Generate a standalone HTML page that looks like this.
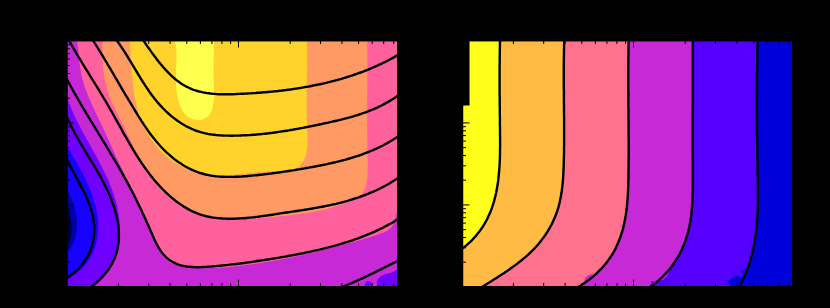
<!DOCTYPE html>
<html><head><meta charset="utf-8"><title>contours</title>
<style>html,body{margin:0;padding:0;background:#000;width:830px;height:308px;overflow:hidden;font-family:"Liberation Sans",sans-serif;}</style>
</head><body>
<svg shape-rendering="geometricPrecision" width="830" height="308" viewBox="0 0 830 308" style="position:absolute;left:0;top:0;display:block">
<defs><clipPath id="cl"><rect x="67" y="41" width="330" height="245"/></clipPath><clipPath id="cr"><rect x="463" y="41" width="329" height="245"/></clipPath></defs>
<rect x="0" y="0" width="830" height="308" fill="#000"/>
<g clip-path="url(#cl)">
<path d="M60 30H410V300H60Z" fill="#c729d6"/>
<path d="M66.0 94.0L66.1 94.2L66.7 96.1L67.3 98.0L67.9 99.9L68.6 101.7L69.3 103.6L70.1 105.4L70.8 107.3L71.6 109.1L72.4 110.9L73.2 112.8L74.0 114.6L74.9 116.4L75.8 118.2L76.6 120.0L77.5 121.8L78.4 123.6L79.4 125.4L80.3 127.2L81.2 129.0L82.2 130.8L83.2 132.6L84.1 134.4L85.1 136.2L86.1 137.9L87.1 139.7L88.1 141.5L89.1 143.3L90.1 145.1L91.0 146.9L92.0 148.6L93.0 150.4L94.0 152.2L95.0 154.0L96.0 155.8L97.0 157.6L97.9 159.4L98.9 161.2L99.9 163.0L100.8 164.8L101.7 166.6L102.6 168.4L103.6 170.3L104.4 172.1L105.3 173.9L106.2 175.8L107.0 177.6L107.9 179.5L108.7 181.3L109.5 183.2L110.2 185.1L111.0 187.0L111.7 188.9L112.4 190.8L113.1 192.7L113.7 194.6L114.4 196.5L115.0 198.5L115.5 200.4L116.1 202.4L116.6 204.3L117.1 206.3L117.5 208.3L117.9 210.3L118.3 212.3L118.6 214.3L118.9 216.3L119.2 218.3L119.4 220.3L119.6 222.4L119.8 224.4L119.9 226.4L119.9 228.4L120.0 230.4L120.0 232.4L119.9 234.4L119.8 236.4L119.6 238.4L119.4 240.3L119.2 242.3L118.9 244.3L118.6 246.2L118.2 248.1L117.7 250.0L117.2 251.9L116.7 253.8L116.1 255.7L115.4 257.6L114.7 259.4L113.9 261.2L113.1 263.0L112.2 264.8L111.3 266.5L110.3 268.2L109.2 270.0L108.1 271.6L106.9 273.3L105.7 274.9L104.3 276.5L102.9 278.1L101.5 279.6L100.0 281.1L98.4 282.6L96.7 284.0L95.0 285.4L93.2 286.8L91.4 288.1L60.0 290.0L60.0 93.0Z" fill="#6f00ff"/>
<path d="M66.0 145.5L66.4 145.5L67.4 147.1L68.4 148.8L69.5 150.4L70.5 152.1L71.5 153.8L72.5 155.5L73.6 157.2L74.6 159.0L75.6 160.7L76.6 162.5L77.6 164.2L78.7 166.0L79.6 167.8L80.6 169.6L81.6 171.4L82.6 173.2L83.5 175.1L84.4 176.9L85.3 178.8L86.2 180.6L87.1 182.5L87.9 184.4L88.8 186.3L89.6 188.2L90.3 190.1L91.1 192.0L91.8 193.9L92.5 195.9L93.1 197.8L93.7 199.7L94.3 201.7L94.9 203.7L95.4 205.6L95.9 207.6L96.3 209.6L96.7 211.6L97.0 213.6L97.3 215.6L97.6 217.6L97.8 219.6L98.0 221.6L98.1 223.6L98.1 225.6L98.1 227.6L98.1 229.6L98.0 231.6L97.8 233.6L97.6 235.6L97.3 237.6L97.0 239.6L96.6 241.5L96.1 243.5L95.6 245.4L95.0 247.3L94.4 249.1L93.6 251.0L92.8 252.8L92.0 254.6L91.0 256.4L90.0 258.1L89.0 259.8L87.8 261.5L86.6 263.1L85.3 264.7L83.9 266.2L82.5 267.7L81.1 269.2L79.6 270.7L78.0 272.1L76.4 273.4L74.8 274.8L73.2 276.0L71.5 277.3L69.9 278.5L68.2 279.6L66.5 280.8L64.8 281.8L60.0 282.0L60.0 145.5Z" fill="#1600ff"/>
<path d="M66.0 187.0L66.1 187.1L67.0 188.9L68.0 190.6L68.9 192.5L69.8 194.3L70.6 196.2L71.4 198.2L72.2 200.1L72.9 202.1L73.6 204.2L74.2 206.2L74.8 208.3L75.3 210.3L75.8 212.4L76.2 214.5L76.5 216.6L76.7 218.7L76.9 220.8L77.0 222.9L77.0 225.0L77.0 227.1L76.8 229.2L76.6 231.3L76.3 233.3L75.9 235.3L75.4 237.3L74.7 239.3L74.0 241.2L73.2 243.1L72.3 245.0L71.2 246.8L70.1 248.5L68.8 250.3L67.4 252.0L65.9 253.6L60.0 253.5L60.0 187.0Z" fill="#0000aa"/>
<path d="M66.0 205.0L66.2 205.0L67.1 206.8L67.8 208.7L68.5 210.7L69.2 212.7L69.8 214.7L70.3 216.8L70.8 218.9L71.1 221.0L71.4 223.1L71.6 225.3L71.7 227.4L71.7 229.6L71.7 231.7L71.5 233.8L71.2 235.9L70.8 238.0L70.4 240.0L69.8 242.0L69.0 244.0L68.2 245.9L67.3 247.8L66.2 249.6L60.0 249.5L60.0 205.0Z" fill="#000039"/>
<path d="M76.9 39.0L76.8 39.1L77.1 41.0L77.4 42.9L77.7 44.8L78.0 46.8L78.2 48.8L78.4 50.8L78.6 52.8L78.7 54.8L78.9 56.9L79.1 58.9L79.3 61.0L79.5 63.0L79.8 65.1L80.0 67.1L80.3 69.1L80.7 71.1L81.1 73.1L81.5 75.1L81.9 77.1L82.4 79.0L83.0 80.9L83.5 82.8L84.1 84.7L84.7 86.6L85.4 88.5L86.1 90.4L86.8 92.2L87.5 94.1L88.2 95.9L89.0 97.8L89.8 99.6L90.6 101.4L91.4 103.2L92.2 105.1L93.1 106.9L93.9 108.7L94.8 110.5L95.6 112.3L96.5 114.1L97.3 115.9L98.2 117.7L99.1 119.5L99.9 121.3L100.8 123.2L101.6 125.0L102.5 126.8L103.3 128.6L104.2 130.5L105.0 132.3L105.9 134.1L106.7 135.9L107.6 137.8L108.4 139.6L109.3 141.4L110.1 143.3L110.9 145.1L111.8 146.9L112.6 148.8L113.5 150.6L114.3 152.4L115.1 154.3L116.0 156.1L116.8 157.9L117.6 159.8L118.5 161.6L119.3 163.4L120.2 165.3L121.0 167.1L121.9 168.9L122.7 170.7L123.5 172.6L124.4 174.4L125.2 176.2L126.1 178.0L126.9 179.8L127.8 181.6L128.7 183.4L129.5 185.2L130.4 187.0L131.2 188.8L132.1 190.6L133.0 192.4L133.8 194.2L134.7 196.0L135.6 197.7L136.5 199.5L137.3 201.3L138.2 203.1L139.1 204.9L140.0 206.7L140.8 208.4L141.7 210.2L142.6 212.0L143.4 213.8L144.3 215.6L145.1 217.4L146.0 219.3L146.8 221.1L147.7 222.9L148.5 224.8L149.3 226.6L150.2 228.5L151.0 230.4L151.8 232.2L152.6 234.1L153.4 236.0L154.2 238.0L155.0 239.9L155.8 241.8L156.5 243.8L157.4 245.7L158.2 247.6L159.1 249.4L160.0 251.2L161.0 252.9L162.0 254.5L163.2 256.1L164.4 257.6L165.7 258.9L167.1 260.1L168.6 261.3L170.3 262.2L172.0 263.1L173.9 263.8L175.8 264.4L177.8 264.9L179.8 265.4L181.8 265.8L183.8 266.2L185.9 266.5L187.9 266.8L189.9 267.1L191.9 267.3L193.9 267.5L196.0 267.7L198.0 267.8L200.0 267.9L202.0 268.0L204.0 268.1L206.0 268.1L208.0 268.1L210.1 268.1L212.1 268.0L214.1 268.0L216.1 267.9L218.1 267.8L220.1 267.7L222.1 267.5L224.1 267.4L226.1 267.2L228.1 267.0L230.1 266.9L232.1 266.7L234.1 266.4L236.0 266.2L238.0 266.0L240.0 265.8L242.0 265.5L244.0 265.3L246.0 265.0L248.0 264.8L250.0 264.5L252.0 264.2L253.9 264.0L255.9 263.7L257.9 263.4L259.9 263.1L261.9 262.8L263.9 262.5L265.8 262.1L267.8 261.8L269.8 261.5L271.8 261.1L273.7 260.8L275.7 260.4L277.7 260.1L279.7 259.7L281.6 259.3L283.6 259.0L285.6 258.6L287.5 258.2L289.5 257.8L291.5 257.4L293.4 257.0L295.4 256.6L297.4 256.2L299.3 255.8L301.3 255.3L303.2 254.9L305.2 254.5L307.2 254.0L309.1 253.6L311.1 253.1L313.0 252.7L315.0 252.2L316.9 251.7L318.9 251.3L320.8 250.8L322.8 250.3L324.7 249.8L326.7 249.3L328.6 248.8L330.6 248.3L332.5 247.8L334.5 247.3L336.4 246.8L338.4 246.3L340.3 245.8L342.2 245.2L344.2 244.7L346.1 244.2L348.0 243.6L350.0 243.1L351.9 242.5L353.8 241.9L355.8 241.4L357.7 240.8L359.6 240.2L361.6 239.7L363.5 239.1L365.4 238.5L367.3 237.9L369.2 237.3L371.2 236.7L373.1 236.1L375.0 235.4L376.9 234.8L378.8 234.2L380.7 233.6L382.6 232.9L384.4 232.2L386.2 231.3L387.8 230.4L389.4 229.3L390.7 228.0L391.9 226.4L392.9 224.7L393.8 222.9L394.6 220.9L395.2 218.8L395.8 216.7L396.3 214.6L396.8 212.6L397.3 210.7L397.9 209.0L405.0 209.0L405.0 30.0L76.9 30.0Z" fill="#ff619e"/>
<path d="M101.7 39.0L101.7 39.0L101.9 41.0L102.0 43.0L102.1 45.0L102.1 47.0L102.2 49.0L102.2 51.1L102.2 53.1L102.3 55.1L102.3 57.2L102.4 59.2L102.5 61.2L102.6 63.2L102.8 65.2L102.9 67.2L103.1 69.2L103.4 71.2L103.7 73.2L104.0 75.1L104.3 77.1L104.6 79.0L105.0 81.0L105.5 82.9L105.9 84.8L106.4 86.8L107.0 88.7L107.6 90.6L108.2 92.5L108.8 94.3L109.5 96.2L110.3 98.1L111.0 100.0L111.8 101.8L112.6 103.7L113.4 105.5L114.3 107.3L115.2 109.2L116.0 111.0L116.9 112.8L117.8 114.6L118.8 116.4L119.7 118.3L120.6 120.1L121.5 121.9L122.4 123.7L123.3 125.5L124.2 127.3L125.1 129.1L126.0 130.9L126.9 132.7L127.7 134.5L128.6 136.3L129.4 138.1L130.2 139.9L131.0 141.8L131.9 143.6L132.7 145.4L133.5 147.2L134.3 148.9L135.2 150.7L136.0 152.5L136.9 154.3L137.8 156.1L138.6 157.8L139.6 159.6L140.5 161.4L141.4 163.1L142.4 164.9L143.4 166.6L144.4 168.3L145.5 170.0L146.6 171.7L147.7 173.4L148.9 175.1L150.1 176.8L151.3 178.4L152.6 180.1L153.8 181.7L155.1 183.3L156.5 184.8L157.8 186.4L159.2 187.9L160.6 189.4L162.1 190.9L163.5 192.3L165.0 193.7L166.6 195.1L168.1 196.4L169.7 197.7L171.2 199.0L172.9 200.2L174.5 201.4L176.1 202.5L177.8 203.6L179.5 204.6L181.2 205.6L183.0 206.6L184.7 207.5L186.5 208.4L188.3 209.2L190.1 210.0L191.9 210.7L193.8 211.4L195.7 212.1L197.5 212.7L199.4 213.3L201.3 213.8L203.2 214.3L205.1 214.8L207.1 215.3L209.0 215.7L211.0 216.1L212.9 216.4L214.9 216.7L216.9 217.0L218.9 217.3L220.9 217.5L222.9 217.7L224.9 217.9L226.9 218.1L228.9 218.2L230.9 218.3L232.9 218.4L235.0 218.5L237.0 218.6L239.0 218.6L241.0 218.6L243.1 218.6L245.1 218.6L247.1 218.6L249.1 218.5L251.2 218.5L253.2 218.4L255.2 218.3L257.2 218.2L259.3 218.1L261.3 217.9L263.3 217.8L265.3 217.6L267.3 217.5L269.3 217.3L271.4 217.1L273.4 216.9L275.4 216.8L277.4 216.6L279.4 216.3L281.3 216.1L283.3 215.9L285.3 215.7L287.3 215.5L289.3 215.2L291.2 215.0L293.2 214.8L295.1 214.5L297.1 214.3L299.1 214.0L301.0 213.7L303.0 213.5L304.9 213.2L306.9 212.9L308.8 212.5L310.8 212.2L312.7 211.8L314.7 211.5L316.7 211.1L318.6 210.7L320.6 210.3L322.6 209.8L324.6 209.4L326.6 208.9L328.6 208.4L330.5 207.9L332.5 207.3L334.5 206.7L336.5 206.1L338.5 205.5L340.5 204.8L342.4 204.2L344.4 203.4L346.3 202.7L348.2 201.9L350.1 201.1L352.0 200.3L353.8 199.4L355.6 198.5L357.3 197.5L359.0 196.4L360.4 195.2L361.7 193.9L362.9 192.5L363.8 190.9L364.7 189.3L365.4 187.6L365.9 185.8L366.4 184.0L366.8 182.0L367.1 180.1L367.3 178.1L367.4 176.0L367.5 174.0L367.6 171.9L367.6 169.8L367.7 167.8L367.7 165.7L367.7 163.7L367.7 161.7L367.7 159.6L367.6 157.6L367.6 155.6L367.6 153.6L367.5 151.5L367.5 149.5L367.5 147.5L367.4 145.5L367.4 143.5L367.3 141.5L367.3 139.5L367.3 137.5L367.3 135.5L367.2 133.5L367.2 131.5L367.2 129.4L367.2 127.4L367.2 125.4L367.2 123.4L367.2 121.4L367.2 119.4L367.2 117.4L367.2 115.4L367.2 113.4L367.2 111.4L367.2 109.4L367.2 107.3L367.2 105.3L367.2 103.3L367.2 101.3L367.2 99.3L367.2 97.3L367.2 95.3L367.3 93.3L367.3 91.3L367.3 89.3L367.3 87.2L367.3 85.2L367.3 83.2L367.3 81.2L367.4 79.2L367.4 77.2L367.4 75.2L367.4 73.2L367.4 71.2L367.4 69.2L367.4 67.1L367.4 65.1L367.4 63.1L367.4 61.1L367.4 59.1L367.4 57.1L367.4 55.1L367.4 53.1L367.3 51.1L367.3 49.1L367.3 47.0L367.3 45.0L367.3 43.0L367.2 41.0L367.2 39.0L367.3 30.0L101.7 30.0Z" fill="#ff9a65"/>
<path d="M129.7 39.0L129.6 39.2L129.8 41.1L129.9 43.1L130.0 45.0L130.2 47.0L130.3 48.9L130.4 50.9L130.5 52.9L130.6 54.9L130.8 56.9L130.9 58.9L131.0 60.9L131.1 62.9L131.2 65.0L131.4 67.0L131.5 69.0L131.7 71.1L131.8 73.1L132.0 75.1L132.2 77.2L132.4 79.2L132.6 81.2L132.8 83.3L133.0 85.3L133.3 87.3L133.6 89.3L133.8 91.3L134.2 93.4L134.5 95.4L134.8 97.4L135.2 99.4L135.6 101.3L136.0 103.3L136.5 105.3L137.0 107.2L137.5 109.2L138.0 111.1L138.6 113.0L139.2 115.0L139.9 116.9L140.5 118.7L141.2 120.6L142.0 122.5L142.8 124.3L143.6 126.1L144.5 127.9L145.4 129.7L146.3 131.5L147.3 133.2L148.3 134.9L149.4 136.7L150.5 138.3L151.7 140.0L152.9 141.6L154.1 143.2L155.4 144.8L156.7 146.4L158.0 147.9L159.4 149.4L160.8 150.9L162.2 152.3L163.7 153.7L165.2 155.1L166.7 156.4L168.2 157.7L169.8 158.9L171.4 160.2L173.1 161.3L174.7 162.5L176.4 163.6L178.1 164.6L179.8 165.7L181.6 166.6L183.4 167.5L185.2 168.4L187.0 169.3L188.8 170.0L190.6 170.8L192.5 171.5L194.4 172.1L196.2 172.7L198.1 173.2L200.1 173.7L202.0 174.1L203.9 174.4L205.9 174.7L207.8 175.0L209.8 175.2L211.7 175.4L213.7 175.5L215.7 175.5L217.7 175.6L219.7 175.6L221.7 175.5L223.7 175.4L225.7 175.3L227.8 175.2L229.8 175.1L231.8 174.9L233.9 174.7L235.9 174.5L238.0 174.3L240.0 174.1L242.1 173.8L244.1 173.6L246.2 173.4L248.3 173.1L250.3 172.9L252.4 172.7L254.5 172.5L256.6 172.3L258.6 172.1L260.7 171.9L262.8 171.8L264.9 171.6L267.0 171.5L269.0 171.5L271.1 171.4L273.2 171.4L275.2 171.4L277.3 171.4L279.3 171.4L281.4 171.4L283.4 171.3L285.3 171.2L287.3 171.0L289.1 170.7L291.0 170.3L292.8 169.7L294.5 169.0L296.2 168.1L297.8 167.1L299.3 165.9L300.7 164.6L301.9 163.1L303.0 161.5L304.0 159.8L304.8 158.0L305.5 156.1L306.1 154.2L306.5 152.2L306.9 150.1L307.2 148.1L307.4 146.0L307.5 144.0L307.6 142.0L307.6 139.9L307.6 137.9L307.6 135.9L307.5 133.8L307.4 131.8L307.3 129.8L307.2 127.7L307.1 125.7L307.0 123.7L307.0 121.7L306.9 119.6L306.8 117.6L306.8 115.6L306.7 113.6L306.7 111.6L306.7 109.5L306.7 107.5L306.6 105.5L306.6 103.5L306.6 101.5L306.6 99.5L306.7 97.4L306.7 95.4L306.7 93.4L306.7 91.4L306.7 89.4L306.8 87.4L306.8 85.4L306.8 83.4L306.9 81.4L306.9 79.3L306.9 77.3L306.9 75.3L307.0 73.3L307.0 71.3L307.0 69.3L307.0 67.3L307.1 65.3L307.1 63.2L307.1 61.2L307.1 59.2L307.1 57.2L307.1 55.2L307.1 53.1L307.0 51.1L307.0 49.1L307.0 47.1L306.9 45.1L306.9 43.0L306.8 41.0L306.7 39.0L306.9 30.0L129.5 30.0Z" fill="#ffd32c"/>
<path d="M174.9 39.0L174.6 38.9L175.1 41.1L175.5 43.2L175.8 45.3L176.0 47.4L176.2 49.5L176.3 51.5L176.4 53.6L176.5 55.6L176.5 57.6L176.5 59.6L176.5 61.6L176.4 63.6L176.4 65.6L176.3 67.6L176.2 69.5L176.1 71.5L176.1 73.5L176.0 75.5L176.0 77.5L176.0 79.5L176.0 81.5L176.1 83.5L176.2 85.6L176.3 87.6L176.5 89.7L176.7 91.8L177.1 93.9L177.4 96.0L177.9 98.2L178.4 100.3L179.0 102.4L179.7 104.4L180.5 106.4L181.4 108.3L182.3 110.2L183.4 111.9L184.6 113.5L185.9 114.9L187.3 116.2L188.9 117.4L190.6 118.3L192.4 119.0L194.3 119.5L196.3 119.8L198.3 119.9L200.3 119.8L202.2 119.5L204.1 118.9L205.7 118.1L207.3 117.1L208.6 115.8L209.7 114.4L210.7 112.7L211.5 111.0L212.2 109.1L212.7 107.0L213.1 104.9L213.5 102.8L213.7 100.6L213.9 98.4L214.0 96.2L214.0 94.0L214.0 91.9L214.0 89.8L213.9 87.7L213.9 85.7L213.8 83.7L213.7 81.7L213.7 79.7L213.6 77.7L213.6 75.6L213.6 73.6L213.6 71.6L213.6 69.6L213.6 67.6L213.7 65.6L213.7 63.5L213.7 61.5L213.8 59.5L213.8 57.4L213.8 55.4L213.9 53.3L213.9 51.3L213.9 49.2L213.9 47.2L213.9 45.1L213.9 43.1L213.8 41.0L213.7 39.0L213.8 30.0L174.9 30.0Z" fill="#ffff4e"/>
<path d="M364.6 287.0L364.6 287.1L364.8 284.3L365.9 282.3L367.5 281.2L369.3 281.2L371.0 282.3L372.1 284.2L372.4 287.1Z" fill="#6f00ff"/>
<path d="M377.0 287.0L377.2 287.2L376.7 284.6L376.8 282.3L377.3 280.3L378.3 278.6L379.6 277.1L381.2 275.9L383.0 275.0L384.9 274.3L387.0 273.8L389.1 273.3L391.1 272.7L393.1 272.0L394.9 271.1L396.4 269.7L397.8 268.0L398.9 265.8L405.0 266.0L405.0 290.0L377.0 290.0Z" fill="#6f00ff"/>
<path d="M66.0 156.8L65.9 157.1L66.7 158.9L67.6 160.6L68.4 162.3L69.3 164.1L70.2 165.8L71.1 167.6L72.0 169.4L73.0 171.2L74.0 173.0L74.9 174.8L75.9 176.6L76.9 178.4L77.9 180.2L78.9 182.1L79.9 183.9L80.8 185.8L81.8 187.7L82.7 189.5L83.7 191.4L84.6 193.3L85.5 195.2L86.3 197.1L87.2 199.0L88.0 201.0L88.7 202.9L89.5 204.8L90.2 206.8L90.8 208.7L91.4 210.7L92.0 212.7L92.5 214.6L92.9 216.6L93.3 218.6L93.7 220.6L93.9 222.6L94.1 224.6L94.3 226.6L94.3 228.6L94.3 230.6L94.2 232.6L94.1 234.6L93.9 236.6L93.6 238.6L93.2 240.5L92.8 242.5L92.3 244.5L91.8 246.4L91.1 248.3L90.4 250.2L89.7 252.1L88.8 253.9L87.9 255.7L87.0 257.5L85.9 259.2L84.8 260.9L83.7 262.6L82.4 264.2L81.1 265.8L79.8 267.4L78.3 268.9L76.8 270.3L75.2 271.7L73.6 273.0L71.9 274.3L70.1 275.5L68.3 276.7L66.4 277.8L64.4 278.8" fill="none" stroke="#000" stroke-width="2.4" stroke-linejoin="round"/>
<path d="M66.3 115.3L66.4 115.3L67.1 117.2L67.9 119.0L68.7 120.9L69.6 122.7L70.5 124.6L71.3 126.4L72.2 128.2L73.2 130.0L74.1 131.8L75.0 133.6L76.0 135.4L77.0 137.1L78.0 138.9L79.0 140.7L80.0 142.4L81.0 144.2L82.1 145.9L83.1 147.7L84.2 149.4L85.2 151.1L86.3 152.9L87.3 154.6L88.4 156.4L89.4 158.1L90.5 159.8L91.6 161.6L92.6 163.3L93.7 165.0L94.7 166.8L95.7 168.5L96.8 170.3L97.8 172.1L98.8 173.8L99.8 175.6L100.8 177.4L101.8 179.2L102.7 181.0L103.7 182.8L104.6 184.6L105.5 186.4L106.4 188.2L107.3 190.0L108.1 191.9L109.0 193.8L109.8 195.6L110.5 197.5L111.3 199.4L112.0 201.3L112.7 203.3L113.4 205.2L114.1 207.2L114.7 209.1L115.2 211.1L115.8 213.1L116.3 215.1L116.7 217.1L117.2 219.1L117.6 221.1L117.9 223.1L118.2 225.1L118.4 227.1L118.6 229.1L118.8 231.1L118.9 233.1L118.9 235.0L118.9 237.0L118.8 239.0L118.7 241.0L118.5 242.9L118.2 244.9L117.9 246.8L117.6 248.8L117.1 250.7L116.6 252.6L116.0 254.4L115.4 256.3L114.7 258.2L113.9 260.0L113.0 261.8L112.1 263.6L111.0 265.3L110.0 267.1L108.9 268.8L107.7 270.5L106.4 272.1L105.1 273.7L103.8 275.3L102.3 276.9L100.9 278.4L99.4 279.9L97.8 281.3L96.3 282.7L94.6 284.1L93.0 285.4L91.3 286.7L89.5 287.9" fill="none" stroke="#000" stroke-width="2.4" stroke-linejoin="round"/>
<path d="M66.5 78.5L66.6 78.5L67.5 80.3L68.4 82.0L69.4 83.8L70.3 85.5L71.3 87.3L72.3 89.0L73.2 90.8L74.2 92.5L75.2 94.3L76.2 96.0L77.2 97.7L78.2 99.5L79.2 101.2L80.2 103.0L81.2 104.7L82.2 106.4L83.2 108.2L84.3 109.9L85.3 111.6L86.3 113.4L87.4 115.1L88.4 116.8L89.5 118.5L90.5 120.3L91.5 122.0L92.6 123.7L93.6 125.5L94.7 127.2L95.7 128.9L96.8 130.6L97.9 132.4L98.9 134.1L100.0 135.8L101.0 137.5L102.1 139.2L103.1 141.0L104.2 142.7L105.2 144.4L106.3 146.2L107.3 147.9L108.4 149.6L109.4 151.3L110.4 153.1L111.5 154.8L112.5 156.5L113.5 158.3L114.6 160.0L115.6 161.7L116.6 163.5L117.6 165.2L118.6 166.9L119.6 168.7L120.6 170.4L121.6 172.1L122.6 173.9L123.6 175.6L124.5 177.4L125.5 179.1L126.5 180.9L127.4 182.6L128.4 184.4L129.3 186.1L130.2 187.9L131.1 189.6L132.1 191.4L133.0 193.2L133.9 194.9L134.8 196.7L135.7 198.5L136.6 200.3L137.4 202.1L138.3 203.9L139.2 205.7L140.0 207.5L140.9 209.3L141.8 211.1L142.6 212.9L143.5 214.8L144.3 216.6L145.2 218.4L146.0 220.3L146.8 222.2L147.7 224.0L148.5 225.9L149.3 227.8L150.1 229.7L151.0 231.6L151.8 233.5L152.6 235.4L153.5 237.3L154.3 239.2L155.2 241.1L156.1 242.9L157.0 244.7L158.0 246.5L159.0 248.2L160.1 249.9L161.2 251.5L162.4 253.1L163.6 254.6L164.9 256.0L166.2 257.3L167.6 258.5L169.1 259.7L170.7 260.8L172.3 261.7L173.9 262.6L175.6 263.4L177.3 264.1L179.1 264.8L181.0 265.3L182.8 265.8L184.8 266.1L186.7 266.5L188.7 266.7L190.7 266.9L192.7 267.0L194.7 267.1L196.8 267.2L198.9 267.2L200.9 267.1L203.0 267.0L205.1 266.9L207.2 266.8L209.3 266.6L211.4 266.5L213.5 266.3L215.6 266.1L217.7 265.9L219.8 265.7L221.8 265.5L223.9 265.3L225.9 265.1L228.0 264.9L230.0 264.6L232.0 264.4L234.0 264.2L236.0 264.0L238.0 263.7L240.0 263.5L242.0 263.2L244.0 263.0L245.9 262.7L247.9 262.4L249.9 262.2L251.8 261.9L253.8 261.6L255.8 261.3L257.7 261.0L259.7 260.7L261.6 260.4L263.6 260.1L265.5 259.8L267.5 259.5L269.4 259.2L271.4 258.9L273.3 258.6L275.3 258.3L277.2 257.9L279.2 257.6L281.1 257.2L283.1 256.9L285.0 256.6L287.0 256.2L289.0 255.8L290.9 255.5L292.9 255.1L294.9 254.8L296.8 254.4L298.8 254.0L300.8 253.6L302.8 253.2L304.7 252.8L306.7 252.4L308.7 252.0L310.7 251.6L312.7 251.1L314.6 250.7L316.6 250.3L318.6 249.8L320.6 249.3L322.5 248.9L324.5 248.4L326.5 247.9L328.4 247.4L330.4 246.9L332.3 246.4L334.3 245.8L336.3 245.3L338.2 244.8L340.1 244.2L342.1 243.6L344.0 243.0L346.0 242.4L347.9 241.8L349.8 241.2L351.7 240.6L353.6 239.9L355.5 239.2L357.4 238.6L359.3 237.9L361.2 237.2L363.1 236.4L365.0 235.7L366.8 234.9L368.7 234.2L370.5 233.4L372.4 232.6L374.2 231.8L376.1 230.9L377.9 230.1L379.7 229.2L381.5 228.4L383.3 227.5L385.0 226.5L386.8 225.6L388.6 224.6L390.3 223.7L392.1 222.7L393.8 221.7L395.5 220.6L397.2 219.6L398.9 218.5" fill="none" stroke="#000" stroke-width="2.4" stroke-linejoin="round"/>
<path d="M68.1 39.3L68.2 39.1L69.2 40.9L70.3 42.7L71.3 44.5L72.3 46.2L73.3 48.0L74.3 49.8L75.4 51.5L76.4 53.3L77.4 55.0L78.5 56.8L79.5 58.5L80.6 60.2L81.6 62.0L82.6 63.7L83.7 65.4L84.7 67.1L85.8 68.8L86.8 70.5L87.9 72.2L88.9 73.9L90.0 75.6L91.0 77.3L92.1 79.0L93.1 80.7L94.2 82.4L95.2 84.1L96.3 85.8L97.3 87.5L98.4 89.2L99.4 90.9L100.4 92.6L101.5 94.3L102.5 96.0L103.5 97.8L104.6 99.5L105.6 101.2L106.6 102.9L107.6 104.7L108.6 106.4L109.6 108.2L110.6 109.9L111.6 111.7L112.6 113.5L113.6 115.2L114.6 117.0L115.6 118.8L116.6 120.6L117.6 122.4L118.6 124.1L119.6 125.9L120.6 127.7L121.6 129.5L122.5 131.3L123.5 133.1L124.5 134.8L125.6 136.6L126.6 138.4L127.6 140.2L128.6 141.9L129.6 143.7L130.7 145.5L131.7 147.2L132.7 149.0L133.8 150.7L134.9 152.4L135.9 154.2L137.0 155.9L138.1 157.6L139.2 159.3L140.3 161.0L141.4 162.7L142.6 164.4L143.7 166.0L144.9 167.7L146.0 169.3L147.2 170.9L148.4 172.5L149.6 174.1L150.8 175.7L152.1 177.3L153.4 178.9L154.6 180.4L155.9 181.9L157.2 183.4L158.6 184.9L159.9 186.4L161.3 187.8L162.7 189.3L164.1 190.7L165.5 192.1L167.0 193.5L168.4 194.8L169.9 196.2L171.4 197.5L173.0 198.7L174.5 200.0L176.1 201.2L177.7 202.4L179.3 203.6L181.0 204.7L182.7 205.8L184.3 206.9L186.1 207.9L187.8 208.9L189.5 209.9L191.3 210.8L193.1 211.6L194.9 212.4L196.7 213.2L198.6 213.9L200.4 214.6L202.3 215.2L204.2 215.7L206.1 216.2L208.1 216.6L210.0 217.0L212.0 217.4L214.0 217.7L216.0 217.9L218.0 218.1L219.9 218.3L222.0 218.5L224.0 218.6L226.0 218.6L228.0 218.7L230.0 218.7L232.0 218.7L234.0 218.7L236.0 218.6L238.0 218.5L240.1 218.4L242.1 218.3L244.1 218.2L246.1 218.0L248.1 217.8L250.2 217.6L252.2 217.4L254.2 217.2L256.2 216.9L258.3 216.7L260.3 216.4L262.3 216.1L264.3 215.8L266.4 215.6L268.4 215.3L270.4 215.0L272.4 214.7L274.4 214.4L276.5 214.0L278.5 213.7L280.5 213.4L282.5 213.1L284.5 212.8L286.5 212.5L288.6 212.2L290.6 211.9L292.6 211.6L294.6 211.3L296.6 211.0L298.6 210.7L300.6 210.4L302.6 210.1L304.6 209.8L306.6 209.5L308.6 209.1L310.6 208.8L312.5 208.5L314.5 208.1L316.5 207.8L318.5 207.4L320.5 207.0L322.4 206.7L324.4 206.3L326.4 205.9L328.3 205.5L330.3 205.1L332.2 204.6L334.2 204.2L336.1 203.8L338.1 203.3L340.0 202.8L341.9 202.3L343.8 201.8L345.8 201.3L347.7 200.8L349.6 200.2L351.5 199.6L353.4 199.0L355.3 198.4L357.2 197.8L359.1 197.2L361.0 196.5L362.8 195.8L364.7 195.1L366.6 194.4L368.4 193.7L370.3 192.9L372.1 192.1L374.0 191.3L375.8 190.5L377.7 189.6L379.5 188.7L381.3 187.8L383.1 186.9L384.9 186.0L386.7 185.0L388.5 184.0L390.3 182.9L392.1 181.8L393.8 180.8L395.6 179.6L397.3 178.5L399.1 177.3" fill="none" stroke="#000" stroke-width="2.4" stroke-linejoin="round"/>
<path d="M92.7 39.3L92.4 39.5L93.5 41.2L94.6 42.9L95.7 44.6L96.8 46.3L97.8 48.0L98.9 49.8L99.9 51.5L101.0 53.2L102.0 54.9L103.1 56.7L104.1 58.4L105.1 60.1L106.2 61.8L107.2 63.6L108.2 65.3L109.2 67.0L110.3 68.7L111.3 70.5L112.3 72.2L113.3 73.9L114.3 75.7L115.3 77.4L116.4 79.1L117.4 80.9L118.4 82.6L119.4 84.3L120.4 86.1L121.4 87.8L122.4 89.6L123.5 91.3L124.5 93.0L125.5 94.8L126.5 96.5L127.6 98.2L128.6 100.0L129.7 101.7L130.7 103.4L131.7 105.2L132.8 106.9L133.9 108.6L134.9 110.4L136.0 112.1L137.0 113.8L138.1 115.6L139.2 117.3L140.3 119.0L141.4 120.8L142.5 122.5L143.6 124.2L144.8 125.9L145.9 127.6L147.1 129.3L148.2 131.0L149.4 132.6L150.6 134.3L151.9 135.9L153.1 137.5L154.4 139.1L155.7 140.7L157.0 142.3L158.3 143.8L159.6 145.3L161.0 146.8L162.4 148.3L163.8 149.8L165.3 151.2L166.7 152.6L168.2 153.9L169.7 155.2L171.2 156.5L172.8 157.8L174.3 159.1L175.9 160.3L177.5 161.4L179.1 162.5L180.8 163.6L182.4 164.7L184.1 165.7L185.8 166.7L187.5 167.6L189.3 168.5L191.0 169.4L192.8 170.2L194.6 170.9L196.4 171.7L198.2 172.3L200.1 173.0L202.0 173.5L203.8 174.0L205.7 174.5L207.7 174.9L209.6 175.3L211.5 175.7L213.5 175.9L215.5 176.2L217.5 176.4L219.5 176.6L221.5 176.7L223.5 176.8L225.5 176.9L227.5 176.9L229.6 176.9L231.6 176.9L233.7 176.9L235.7 176.8L237.8 176.7L239.8 176.6L241.9 176.5L244.0 176.3L246.0 176.2L248.1 176.0L250.1 175.8L252.2 175.6L254.2 175.4L256.3 175.2L258.3 175.0L260.4 174.8L262.4 174.6L264.4 174.3L266.4 174.1L268.5 173.8L270.5 173.6L272.5 173.3L274.5 173.0L276.5 172.8L278.5 172.5L280.5 172.2L282.5 171.9L284.5 171.6L286.5 171.3L288.5 171.0L290.5 170.7L292.5 170.4L294.5 170.1L296.5 169.7L298.4 169.4L300.4 169.1L302.4 168.7L304.4 168.4L306.4 168.0L308.4 167.7L310.3 167.3L312.3 167.0L314.3 166.6L316.3 166.2L318.2 165.8L320.2 165.5L322.2 165.1L324.2 164.7L326.1 164.3L328.1 163.8L330.1 163.4L332.0 163.0L334.0 162.5L335.9 162.1L337.9 161.6L339.8 161.1L341.8 160.6L343.7 160.1L345.7 159.6L347.6 159.0L349.5 158.5L351.5 157.9L353.4 157.3L355.3 156.7L357.2 156.1L359.1 155.5L361.0 154.8L362.9 154.1L364.8 153.4L366.6 152.7L368.5 152.0L370.4 151.2L372.2 150.5L374.1 149.6L375.9 148.8L377.7 148.0L379.6 147.1L381.4 146.2L383.2 145.3L385.0 144.3L386.8 143.4L388.5 142.4L390.3 141.3L392.1 140.3L393.8 139.2L395.6 138.1L397.3 136.9L399.0 135.8" fill="none" stroke="#000" stroke-width="2.4" stroke-linejoin="round"/>
<path d="M116.2 39.3L116.1 39.6L117.3 41.1L118.4 42.7L119.5 44.3L120.6 45.9L121.7 47.5L122.8 49.1L123.9 50.8L125.0 52.5L126.0 54.1L127.1 55.8L128.1 57.6L129.2 59.3L130.2 61.0L131.3 62.7L132.3 64.5L133.3 66.2L134.4 68.0L135.4 69.7L136.5 71.5L137.5 73.2L138.6 75.0L139.7 76.7L140.7 78.5L141.8 80.2L142.9 82.0L144.0 83.7L145.1 85.4L146.3 87.1L147.4 88.8L148.6 90.5L149.7 92.2L150.9 93.8L152.1 95.5L153.4 97.1L154.6 98.7L155.9 100.3L157.2 101.9L158.5 103.4L159.8 104.9L161.2 106.4L162.6 107.9L164.0 109.3L165.4 110.8L166.9 112.1L168.4 113.5L169.9 114.8L171.4 116.1L173.0 117.4L174.6 118.6L176.2 119.8L177.8 121.0L179.4 122.1L181.1 123.2L182.8 124.2L184.5 125.2L186.2 126.2L188.0 127.1L189.7 127.9L191.5 128.8L193.3 129.5L195.1 130.3L197.0 131.0L198.8 131.6L200.7 132.2L202.6 132.7L204.5 133.2L206.4 133.6L208.4 134.0L210.3 134.3L212.3 134.6L214.3 134.8L216.3 135.1L218.3 135.2L220.3 135.4L222.3 135.5L224.3 135.6L226.3 135.6L228.3 135.6L230.4 135.7L232.4 135.7L234.4 135.6L236.4 135.6L238.5 135.6L240.5 135.5L242.5 135.4L244.5 135.3L246.5 135.2L248.5 135.1L250.6 135.0L252.6 134.8L254.6 134.7L256.6 134.5L258.6 134.3L260.6 134.2L262.7 133.9L264.7 133.7L266.7 133.5L268.7 133.3L270.7 133.0L272.7 132.8L274.7 132.5L276.7 132.2L278.7 131.9L280.7 131.6L282.7 131.3L284.7 131.0L286.7 130.7L288.7 130.4L290.7 130.0L292.7 129.7L294.7 129.3L296.7 129.0L298.7 128.6L300.7 128.2L302.7 127.9L304.6 127.5L306.6 127.1L308.6 126.7L310.6 126.3L312.6 125.9L314.5 125.5L316.5 125.1L318.5 124.7L320.5 124.3L322.4 123.8L324.4 123.4L326.4 123.0L328.3 122.6L330.3 122.1L332.2 121.7L334.2 121.2L336.2 120.8L338.1 120.3L340.0 119.9L342.0 119.4L343.9 118.9L345.9 118.4L347.8 117.9L349.7 117.4L351.6 116.8L353.5 116.3L355.4 115.7L357.4 115.1L359.2 114.5L361.1 113.9L363.0 113.2L364.9 112.6L366.8 111.9L368.6 111.2L370.5 110.4L372.3 109.7L374.2 108.9L376.0 108.1L377.8 107.3L379.6 106.4L381.5 105.5L383.2 104.6L385.0 103.6L386.8 102.6L388.6 101.6L390.3 100.6L392.1 99.5L393.8 98.4L395.6 97.2L397.3 96.0L399.0 94.8" fill="none" stroke="#000" stroke-width="2.4" stroke-linejoin="round"/>
<path d="M142.4 39.3L142.6 39.4L143.7 40.9L144.7 42.4L145.8 44.0L146.9 45.6L148.0 47.2L149.2 48.8L150.3 50.4L151.5 52.1L152.7 53.7L153.9 55.4L155.2 57.1L156.4 58.7L157.7 60.4L159.0 62.1L160.4 63.7L161.7 65.3L163.1 67.0L164.5 68.5L165.9 70.1L167.4 71.6L168.8 73.2L170.3 74.6L171.8 76.1L173.4 77.5L174.9 78.8L176.5 80.1L178.1 81.3L179.8 82.5L181.4 83.7L183.1 84.7L184.8 85.7L186.5 86.7L188.3 87.5L190.0 88.3L191.8 89.1L193.7 89.8L195.5 90.4L197.4 91.0L199.2 91.5L201.1 91.9L203.0 92.4L205.0 92.7L206.9 93.1L208.9 93.3L210.8 93.6L212.8 93.8L214.8 93.9L216.8 94.1L218.8 94.2L220.8 94.3L222.9 94.3L224.9 94.3L226.9 94.3L229.0 94.3L231.0 94.3L233.1 94.2L235.1 94.1L237.2 94.0L239.3 93.9L241.3 93.8L243.4 93.7L245.4 93.6L247.5 93.5L249.5 93.4L251.6 93.3L253.6 93.1L255.7 93.0L257.7 92.8L259.8 92.7L261.8 92.5L263.9 92.3L265.9 92.2L267.9 92.0L270.0 91.8L272.0 91.6L274.0 91.4L276.1 91.2L278.1 91.0L280.1 90.7L282.1 90.5L284.2 90.2L286.2 90.0L288.2 89.7L290.2 89.5L292.2 89.2L294.2 88.9L296.2 88.6L298.2 88.3L300.2 88.0L302.2 87.6L304.2 87.3L306.2 86.9L308.2 86.6L310.2 86.2L312.2 85.8L314.2 85.4L316.1 85.0L318.1 84.6L320.1 84.2L322.1 83.8L324.0 83.3L326.0 82.9L327.9 82.4L329.9 81.9L331.8 81.4L333.8 80.9L335.7 80.4L337.7 79.9L339.6 79.3L341.5 78.8L343.5 78.2L345.4 77.6L347.3 77.0L349.2 76.4L351.1 75.8L353.0 75.2L354.9 74.5L356.8 73.8L358.7 73.2L360.6 72.5L362.5 71.8L364.4 71.0L366.3 70.3L368.1 69.6L370.0 68.8L371.9 68.0L373.7 67.2L375.6 66.4L377.4 65.6L379.3 64.7L381.1 63.9L382.9 63.0L384.8 62.1L386.6 61.2L388.4 60.3L390.2 59.3L392.0 58.4L393.8 57.4L395.6 56.4L397.4 55.4L399.2 54.3" fill="none" stroke="#000" stroke-width="2.4" stroke-linejoin="round"/>
<path d="M340.5 287.6L340.5 287.6L342.4 286.8L344.4 286.1L346.3 285.3L348.2 284.5L350.2 283.7L352.1 282.9L354.0 282.1L355.9 281.2L357.8 280.4L359.7 279.5L361.6 278.7L363.5 277.8L365.4 276.9L367.2 276.0L369.1 275.1L371.0 274.2L372.9 273.3L374.7 272.4L376.6 271.4L378.5 270.5L380.3 269.6L382.2 268.7L384.1 267.7L385.9 266.8L387.8 265.9L389.7 264.9L391.5 264.0L393.4 263.1L395.3 262.2L397.1 261.2L399.0 260.3" fill="none" stroke="#000" stroke-width="2.4" stroke-linejoin="round"/>
</g>
<g clip-path="url(#cr)">
<path d="M455 30H800V300H455Z" fill="#0000db"/>
<path d="M757.2 38.0L757.5 38.0L757.5 40.1L757.5 42.1L757.4 44.1L757.4 46.1L757.4 48.1L757.3 50.1L757.3 52.1L757.3 54.2L757.3 56.2L757.2 58.2L757.2 60.2L757.2 62.2L757.2 64.2L757.1 66.2L757.1 68.3L757.1 70.3L757.1 72.3L757.1 74.3L757.0 76.3L757.0 78.3L757.0 80.3L757.0 82.3L757.0 84.3L757.0 86.4L757.0 88.4L757.0 90.4L757.0 92.4L756.9 94.4L756.9 96.4L756.9 98.4L756.9 100.4L756.9 102.5L756.9 104.5L756.9 106.5L756.9 108.5L756.9 110.5L756.9 112.5L756.9 114.5L756.9 116.6L756.9 118.6L757.0 120.6L757.0 122.6L757.0 124.6L757.0 126.6L757.0 128.6L757.0 130.7L757.0 132.7L757.1 134.7L757.1 136.7L757.1 138.7L757.1 140.8L757.1 142.8L757.2 144.8L757.2 146.8L757.2 148.8L757.2 150.9L757.3 152.9L757.3 154.9L757.3 156.9L757.4 159.0L757.4 161.0L757.5 163.0L757.5 165.1L757.5 167.1L757.6 169.1L757.6 171.1L757.7 173.2L757.7 175.2L757.7 177.2L757.8 179.3L757.8 181.3L757.8 183.3L757.9 185.4L757.9 187.4L757.9 189.4L757.9 191.5L757.9 193.5L757.9 195.5L757.9 197.5L757.9 199.6L757.9 201.6L757.8 203.6L757.8 205.6L757.7 207.6L757.7 209.6L757.6 211.7L757.5 213.7L757.4 215.7L757.3 217.7L757.1 219.7L757.0 221.7L756.8 223.7L756.7 225.7L756.5 227.7L756.2 229.6L756.0 231.6L755.8 233.6L755.5 235.6L755.2 237.5L754.9 239.5L754.6 241.5L754.3 243.4L753.9 245.4L753.5 247.3L753.1 249.3L752.6 251.2L752.2 253.1L751.7 255.1L751.2 257.0L750.7 258.9L750.1 260.8L749.5 262.7L748.9 264.6L748.3 266.5L747.6 268.4L746.9 270.3L746.2 272.1L745.4 274.0L744.6 275.9L743.8 277.7L742.9 279.6L742.0 281.4L741.1 283.2L740.2 285.1L739.2 286.9L738.2 288.7L455 295L455 30L757.2 30Z" fill="#5500ff"/>
<path d="M692.8 38.0L692.8 37.9L692.8 39.9L692.8 42.0L692.8 44.0L692.8 46.1L692.8 48.2L692.8 50.2L692.8 52.2L692.8 54.3L692.8 56.3L692.8 58.4L692.8 60.4L692.8 62.5L692.8 64.5L692.8 66.5L692.8 68.6L692.8 70.6L692.8 72.6L692.8 74.7L692.8 76.7L692.8 78.7L692.8 80.7L692.8 82.8L692.8 84.8L692.8 86.8L692.8 88.8L692.8 90.9L692.8 92.9L692.8 94.9L692.8 96.9L692.8 98.9L692.8 101.0L692.8 103.0L692.8 105.0L692.8 107.0L692.7 109.0L692.7 111.1L692.7 113.1L692.7 115.1L692.7 117.1L692.7 119.1L692.7 121.1L692.7 123.2L692.7 125.2L692.7 127.2L692.7 129.2L692.7 131.3L692.7 133.3L692.7 135.3L692.7 137.3L692.7 139.4L692.7 141.4L692.7 143.4L692.7 145.4L692.7 147.5L692.7 149.5L692.7 151.6L692.7 153.6L692.7 155.6L692.8 157.7L692.8 159.7L692.8 161.8L692.8 163.8L692.8 165.8L692.8 167.9L692.8 169.9L692.8 172.0L692.8 174.1L692.8 176.1L692.8 178.2L692.8 180.2L692.8 182.3L692.8 184.4L692.8 186.4L692.8 188.5L692.8 190.5L692.7 192.6L692.7 194.6L692.6 196.7L692.5 198.7L692.4 200.8L692.3 202.8L692.2 204.8L692.0 206.9L691.8 208.9L691.7 210.9L691.4 212.9L691.2 214.9L691.0 216.9L690.7 218.9L690.4 220.9L690.0 222.9L689.7 224.8L689.3 226.8L688.8 228.8L688.4 230.7L687.9 232.6L687.4 234.5L686.8 236.4L686.2 238.3L685.6 240.2L684.9 242.1L684.2 243.9L683.5 245.8L682.7 247.6L681.9 249.4L681.0 251.2L680.1 253.0L679.2 254.8L678.2 256.5L677.2 258.2L676.1 259.9L675.0 261.6L673.9 263.3L672.7 264.9L671.5 266.6L670.3 268.2L669.0 269.8L667.7 271.3L666.3 272.8L664.9 274.4L663.5 275.8L662.0 277.3L660.5 278.7L659.0 280.1L657.4 281.5L655.8 282.9L654.1 284.2L652.4 285.5L650.6 286.7L648.8 288.0L455 295L455 30L692.8 30Z" fill="#c729d6"/>
<path d="M628.5 38.0L628.8 37.9L628.7 39.9L628.7 42.0L628.6 44.0L628.6 46.0L628.5 48.1L628.5 50.1L628.5 52.1L628.5 54.2L628.4 56.2L628.4 58.2L628.4 60.3L628.4 62.3L628.4 64.3L628.3 66.3L628.3 68.4L628.3 70.4L628.3 72.4L628.3 74.4L628.3 76.4L628.3 78.4L628.3 80.4L628.3 82.5L628.3 84.5L628.3 86.5L628.3 88.5L628.3 90.5L628.4 92.5L628.4 94.5L628.4 96.5L628.4 98.5L628.4 100.5L628.4 102.5L628.4 104.5L628.4 106.5L628.5 108.5L628.5 110.5L628.5 112.5L628.5 114.6L628.5 116.6L628.5 118.6L628.5 120.6L628.6 122.6L628.6 124.6L628.6 126.6L628.6 128.6L628.6 130.6L628.6 132.6L628.6 134.6L628.6 136.6L628.7 138.6L628.7 140.7L628.7 142.7L628.7 144.7L628.7 146.7L628.7 148.7L628.7 150.7L628.7 152.8L628.7 154.8L628.7 156.8L628.6 158.8L628.6 160.9L628.6 162.9L628.6 164.9L628.6 167.0L628.6 169.0L628.5 171.0L628.5 173.1L628.5 175.1L628.5 177.2L628.4 179.2L628.4 181.3L628.3 183.3L628.3 185.4L628.2 187.4L628.1 189.4L628.0 191.5L627.9 193.5L627.8 195.6L627.7 197.6L627.5 199.6L627.3 201.7L627.2 203.7L627.0 205.7L626.8 207.7L626.5 209.7L626.3 211.7L626.0 213.7L625.7 215.7L625.3 217.6L625.0 219.6L624.6 221.6L624.2 223.5L623.8 225.4L623.3 227.4L622.8 229.3L622.3 231.2L621.7 233.0L621.1 234.9L620.5 236.8L619.8 238.6L619.1 240.4L618.4 242.3L617.6 244.1L616.8 245.8L616.0 247.6L615.1 249.4L614.2 251.1L613.2 252.8L612.2 254.5L611.1 256.2L610.0 257.8L608.9 259.4L607.7 261.0L606.5 262.6L605.2 264.2L603.9 265.7L602.6 267.3L601.2 268.8L599.8 270.2L598.3 271.7L596.9 273.1L595.4 274.5L593.8 275.9L592.2 277.2L590.6 278.5L589.0 279.8L587.3 281.1L585.6 282.3L583.8 283.5L582.1 284.6L580.3 285.8L578.4 286.9L576.6 287.9L455 295L455 30L628.5 30Z" fill="#ff728d"/>
<path d="M564.0 38.0L564.3 38.0L564.2 40.0L564.2 42.1L564.1 44.1L564.1 46.1L564.0 48.2L564.0 50.2L564.0 52.2L563.9 54.2L563.9 56.3L563.9 58.3L563.8 60.3L563.8 62.4L563.8 64.4L563.8 66.4L563.8 68.4L563.8 70.5L563.8 72.5L563.8 74.5L563.8 76.5L563.8 78.5L563.8 80.6L563.8 82.6L563.8 84.6L563.8 86.6L563.8 88.6L563.9 90.7L563.9 92.7L563.9 94.7L563.9 96.7L563.9 98.8L563.9 100.8L563.9 102.8L564.0 104.8L564.0 106.8L564.0 108.9L564.0 110.9L564.0 112.9L564.0 114.9L564.1 117.0L564.1 119.0L564.1 121.0L564.1 123.0L564.1 125.1L564.1 127.1L564.1 129.1L564.1 131.2L564.1 133.2L564.1 135.2L564.1 137.3L564.1 139.3L564.1 141.3L564.1 143.4L564.1 145.4L564.0 147.4L564.0 149.5L564.0 151.5L564.0 153.6L563.9 155.6L563.9 157.7L563.8 159.7L563.8 161.8L563.7 163.8L563.7 165.9L563.6 167.9L563.5 170.0L563.4 172.1L563.3 174.1L563.2 176.1L563.1 178.2L562.9 180.2L562.7 182.3L562.6 184.3L562.3 186.3L562.1 188.3L561.8 190.3L561.6 192.3L561.2 194.3L560.9 196.3L560.5 198.3L560.1 200.2L559.7 202.2L559.2 204.1L558.7 206.1L558.2 208.0L557.6 209.9L557.0 211.7L556.3 213.6L555.6 215.4L554.9 217.3L554.1 219.1L553.3 220.9L552.4 222.7L551.6 224.5L550.6 226.2L549.7 227.9L548.7 229.6L547.7 231.3L546.6 233.0L545.5 234.7L544.4 236.3L543.2 237.9L542.0 239.5L540.8 241.1L539.5 242.7L538.3 244.2L536.9 245.7L535.6 247.2L534.2 248.7L532.8 250.2L531.3 251.6L529.9 253.0L528.4 254.4L526.8 255.8L525.3 257.1L523.7 258.4L522.1 259.8L520.5 261.1L518.9 262.3L517.3 263.6L515.6 264.9L513.9 266.1L512.3 267.3L510.6 268.5L508.9 269.7L507.2 270.9L505.5 272.0L503.8 273.2L502.0 274.3L500.3 275.4L498.6 276.6L496.9 277.7L495.2 278.8L493.4 279.8L491.7 280.9L490.0 282.0L488.4 283.0L486.7 284.1L485.0 285.1L483.3 286.2L481.7 287.2L480.1 288.2L455 295L455 30L564.0 30Z" fill="#ffbb44"/>
<path d="M499.8 38.0L500.1 38.0L500.1 40.1L500.0 42.1L499.9 44.2L499.9 46.2L499.9 48.2L499.8 50.3L499.8 52.3L499.8 54.3L499.7 56.4L499.7 58.4L499.7 60.4L499.7 62.4L499.6 64.5L499.6 66.5L499.6 68.5L499.6 70.5L499.6 72.5L499.6 74.5L499.6 76.6L499.6 78.6L499.6 80.6L499.6 82.6L499.6 84.6L499.6 86.6L499.6 88.7L499.6 90.7L499.6 92.7L499.6 94.7L499.7 96.7L499.7 98.8L499.7 100.8L499.7 102.8L499.7 104.8L499.8 106.9L499.8 108.9L499.8 110.9L499.8 113.0L499.8 115.0L499.9 117.0L499.9 119.1L499.9 121.1L499.9 123.2L499.9 125.2L500.0 127.3L500.0 129.3L500.0 131.4L500.0 133.4L500.0 135.5L500.1 137.6L500.1 139.6L500.1 141.7L500.1 143.8L500.1 145.8L500.1 147.9L500.0 150.0L500.0 152.1L500.0 154.1L499.9 156.2L499.9 158.3L499.8 160.3L499.7 162.4L499.6 164.4L499.5 166.5L499.3 168.5L499.2 170.6L499.0 172.6L498.8 174.6L498.6 176.6L498.4 178.7L498.2 180.7L497.9 182.7L497.6 184.7L497.3 186.6L496.9 188.6L496.6 190.6L496.2 192.5L495.7 194.5L495.3 196.4L494.8 198.3L494.3 200.2L493.8 202.1L493.2 204.0L492.6 205.9L492.0 207.7L491.3 209.6L490.6 211.4L489.8 213.2L489.0 215.0L488.2 216.8L487.4 218.6L486.5 220.3L485.5 222.0L484.5 223.8L483.5 225.5L482.5 227.1L481.3 228.8L480.2 230.4L479.0 232.0L477.7 233.6L476.4 235.2L475.1 236.8L473.7 238.3L472.3 239.8L470.8 241.3L469.2 242.8L467.6 244.2L466.0 245.6L464.3 247.0L462.5 248.4L460.7 249.7L455 249.4L455 30L499.8 30Z" fill="#ffff1b"/>
<path d="M751 256L749 261.3L749.5 264.5L746.2 268.7L740.7 271.5L744.2 275L741 277.5L735.4 275.5L726.8 282.2L732.3 287L739 287L747 270Z" fill="#0000db"/>
<path d="M594 273L588 275.2L585.3 277.8L584 281.8L587 281Z" fill="#c729d6"/>
<path d="M650 286.5L651.5 281.5L654.2 281.3L653 284.5Z" fill="#5500ff"/>
<path d="M669 270L667.4 275.5L663.2 279.8L659.5 280.3L664 274Z" fill="#c729d6"/>
<path d="M455 30H469.5V105.6H455Z" fill="#000"/>
<path d="M499.8 38.0L500.1 38.0L500.1 40.1L500.0 42.1L499.9 44.2L499.9 46.2L499.9 48.2L499.8 50.3L499.8 52.3L499.8 54.3L499.7 56.4L499.7 58.4L499.7 60.4L499.7 62.4L499.6 64.5L499.6 66.5L499.6 68.5L499.6 70.5L499.6 72.5L499.6 74.5L499.6 76.6L499.6 78.6L499.6 80.6L499.6 82.6L499.6 84.6L499.6 86.6L499.6 88.7L499.6 90.7L499.6 92.7L499.6 94.7L499.7 96.7L499.7 98.8L499.7 100.8L499.7 102.8L499.7 104.8L499.8 106.9L499.8 108.9L499.8 110.9L499.8 113.0L499.8 115.0L499.9 117.0L499.9 119.1L499.9 121.1L499.9 123.2L499.9 125.2L500.0 127.3L500.0 129.3L500.0 131.4L500.0 133.4L500.0 135.5L500.1 137.6L500.1 139.6L500.1 141.7L500.1 143.8L500.1 145.8L500.1 147.9L500.0 150.0L500.0 152.1L500.0 154.1L499.9 156.2L499.9 158.3L499.8 160.3L499.7 162.4L499.6 164.4L499.5 166.5L499.3 168.5L499.2 170.6L499.0 172.6L498.8 174.6L498.6 176.6L498.4 178.7L498.2 180.7L497.9 182.7L497.6 184.7L497.3 186.6L496.9 188.6L496.6 190.6L496.2 192.5L495.7 194.5L495.3 196.4L494.8 198.3L494.3 200.2L493.8 202.1L493.2 204.0L492.6 205.9L492.0 207.7L491.3 209.6L490.6 211.4L489.8 213.2L489.0 215.0L488.2 216.8L487.4 218.6L486.5 220.3L485.5 222.0L484.5 223.8L483.5 225.5L482.5 227.1L481.3 228.8L480.2 230.4L479.0 232.0L477.7 233.6L476.4 235.2L475.1 236.8L473.7 238.3L472.3 239.8L470.8 241.3L469.2 242.8L467.6 244.2L466.0 245.6L464.3 247.0L462.5 248.4L460.7 249.7" fill="none" stroke="#000" stroke-width="2.4" stroke-linejoin="round"/>
<path d="M564.0 38.0L564.3 38.0L564.2 40.0L564.2 42.1L564.1 44.1L564.1 46.1L564.0 48.2L564.0 50.2L564.0 52.2L563.9 54.2L563.9 56.3L563.9 58.3L563.8 60.3L563.8 62.4L563.8 64.4L563.8 66.4L563.8 68.4L563.8 70.5L563.8 72.5L563.8 74.5L563.8 76.5L563.8 78.5L563.8 80.6L563.8 82.6L563.8 84.6L563.8 86.6L563.8 88.6L563.9 90.7L563.9 92.7L563.9 94.7L563.9 96.7L563.9 98.8L563.9 100.8L563.9 102.8L564.0 104.8L564.0 106.8L564.0 108.9L564.0 110.9L564.0 112.9L564.0 114.9L564.1 117.0L564.1 119.0L564.1 121.0L564.1 123.0L564.1 125.1L564.1 127.1L564.1 129.1L564.1 131.2L564.1 133.2L564.1 135.2L564.1 137.3L564.1 139.3L564.1 141.3L564.1 143.4L564.1 145.4L564.0 147.4L564.0 149.5L564.0 151.5L564.0 153.6L563.9 155.6L563.9 157.7L563.8 159.7L563.8 161.8L563.7 163.8L563.7 165.9L563.6 167.9L563.5 170.0L563.4 172.1L563.3 174.1L563.2 176.1L563.1 178.2L562.9 180.2L562.7 182.3L562.6 184.3L562.3 186.3L562.1 188.3L561.8 190.3L561.6 192.3L561.2 194.3L560.9 196.3L560.5 198.3L560.1 200.2L559.7 202.2L559.2 204.1L558.7 206.1L558.2 208.0L557.6 209.9L557.0 211.7L556.3 213.6L555.6 215.4L554.9 217.3L554.1 219.1L553.3 220.9L552.4 222.7L551.6 224.5L550.6 226.2L549.7 227.9L548.7 229.6L547.7 231.3L546.6 233.0L545.5 234.7L544.4 236.3L543.2 237.9L542.0 239.5L540.8 241.1L539.5 242.7L538.3 244.2L536.9 245.7L535.6 247.2L534.2 248.7L532.8 250.2L531.3 251.6L529.9 253.0L528.4 254.4L526.8 255.8L525.3 257.1L523.7 258.4L522.1 259.8L520.5 261.1L518.9 262.3L517.3 263.6L515.6 264.9L513.9 266.1L512.3 267.3L510.6 268.5L508.9 269.7L507.2 270.9L505.5 272.0L503.8 273.2L502.0 274.3L500.3 275.4L498.6 276.6L496.9 277.7L495.2 278.8L493.4 279.8L491.7 280.9L490.0 282.0L488.4 283.0L486.7 284.1L485.0 285.1L483.3 286.2L481.7 287.2L480.1 288.2" fill="none" stroke="#000" stroke-width="2.4" stroke-linejoin="round"/>
<path d="M628.5 38.0L628.8 37.9L628.7 39.9L628.7 42.0L628.6 44.0L628.6 46.0L628.5 48.1L628.5 50.1L628.5 52.1L628.5 54.2L628.4 56.2L628.4 58.2L628.4 60.3L628.4 62.3L628.4 64.3L628.3 66.3L628.3 68.4L628.3 70.4L628.3 72.4L628.3 74.4L628.3 76.4L628.3 78.4L628.3 80.4L628.3 82.5L628.3 84.5L628.3 86.5L628.3 88.5L628.3 90.5L628.4 92.5L628.4 94.5L628.4 96.5L628.4 98.5L628.4 100.5L628.4 102.5L628.4 104.5L628.4 106.5L628.5 108.5L628.5 110.5L628.5 112.5L628.5 114.6L628.5 116.6L628.5 118.6L628.5 120.6L628.6 122.6L628.6 124.6L628.6 126.6L628.6 128.6L628.6 130.6L628.6 132.6L628.6 134.6L628.6 136.6L628.7 138.6L628.7 140.7L628.7 142.7L628.7 144.7L628.7 146.7L628.7 148.7L628.7 150.7L628.7 152.8L628.7 154.8L628.7 156.8L628.6 158.8L628.6 160.9L628.6 162.9L628.6 164.9L628.6 167.0L628.6 169.0L628.5 171.0L628.5 173.1L628.5 175.1L628.5 177.2L628.4 179.2L628.4 181.3L628.3 183.3L628.3 185.4L628.2 187.4L628.1 189.4L628.0 191.5L627.9 193.5L627.8 195.6L627.7 197.6L627.5 199.6L627.3 201.7L627.2 203.7L627.0 205.7L626.8 207.7L626.5 209.7L626.3 211.7L626.0 213.7L625.7 215.7L625.3 217.6L625.0 219.6L624.6 221.6L624.2 223.5L623.8 225.4L623.3 227.4L622.8 229.3L622.3 231.2L621.7 233.0L621.1 234.9L620.5 236.8L619.8 238.6L619.1 240.4L618.4 242.3L617.6 244.1L616.8 245.8L616.0 247.6L615.1 249.4L614.2 251.1L613.2 252.8L612.2 254.5L611.1 256.2L610.0 257.8L608.9 259.4L607.7 261.0L606.5 262.6L605.2 264.2L603.9 265.7L602.6 267.3L601.2 268.8L599.8 270.2L598.3 271.7L596.9 273.1L595.4 274.5L593.8 275.9L592.2 277.2L590.6 278.5L589.0 279.8L587.3 281.1L585.6 282.3L583.8 283.5L582.1 284.6L580.3 285.8L578.4 286.9L576.6 287.9" fill="none" stroke="#000" stroke-width="2.4" stroke-linejoin="round"/>
<path d="M692.8 38.0L692.8 37.9L692.8 39.9L692.8 42.0L692.8 44.0L692.8 46.1L692.8 48.2L692.8 50.2L692.8 52.2L692.8 54.3L692.8 56.3L692.8 58.4L692.8 60.4L692.8 62.5L692.8 64.5L692.8 66.5L692.8 68.6L692.8 70.6L692.8 72.6L692.8 74.7L692.8 76.7L692.8 78.7L692.8 80.7L692.8 82.8L692.8 84.8L692.8 86.8L692.8 88.8L692.8 90.9L692.8 92.9L692.8 94.9L692.8 96.9L692.8 98.9L692.8 101.0L692.8 103.0L692.8 105.0L692.8 107.0L692.7 109.0L692.7 111.1L692.7 113.1L692.7 115.1L692.7 117.1L692.7 119.1L692.7 121.1L692.7 123.2L692.7 125.2L692.7 127.2L692.7 129.2L692.7 131.3L692.7 133.3L692.7 135.3L692.7 137.3L692.7 139.4L692.7 141.4L692.7 143.4L692.7 145.4L692.7 147.5L692.7 149.5L692.7 151.6L692.7 153.6L692.7 155.6L692.8 157.7L692.8 159.7L692.8 161.8L692.8 163.8L692.8 165.8L692.8 167.9L692.8 169.9L692.8 172.0L692.8 174.1L692.8 176.1L692.8 178.2L692.8 180.2L692.8 182.3L692.8 184.4L692.8 186.4L692.8 188.5L692.8 190.5L692.7 192.6L692.7 194.6L692.6 196.7L692.5 198.7L692.4 200.8L692.3 202.8L692.2 204.8L692.0 206.9L691.8 208.9L691.7 210.9L691.4 212.9L691.2 214.9L691.0 216.9L690.7 218.9L690.4 220.9L690.0 222.9L689.7 224.8L689.3 226.8L688.8 228.8L688.4 230.7L687.9 232.6L687.4 234.5L686.8 236.4L686.2 238.3L685.6 240.2L684.9 242.1L684.2 243.9L683.5 245.8L682.7 247.6L681.9 249.4L681.0 251.2L680.1 253.0L679.2 254.8L678.2 256.5L677.2 258.2L676.1 259.9L675.0 261.6L673.9 263.3L672.7 264.9L671.5 266.6L670.3 268.2L669.0 269.8L667.7 271.3L666.3 272.8L664.9 274.4L663.5 275.8L662.0 277.3L660.5 278.7L659.0 280.1L657.4 281.5L655.8 282.9L654.1 284.2L652.4 285.5L650.6 286.7L648.8 288.0" fill="none" stroke="#000" stroke-width="2.4" stroke-linejoin="round"/>
<path d="M757.2 38.0L757.5 38.0L757.5 40.1L757.5 42.1L757.4 44.1L757.4 46.1L757.4 48.1L757.3 50.1L757.3 52.1L757.3 54.2L757.3 56.2L757.2 58.2L757.2 60.2L757.2 62.2L757.2 64.2L757.1 66.2L757.1 68.3L757.1 70.3L757.1 72.3L757.1 74.3L757.0 76.3L757.0 78.3L757.0 80.3L757.0 82.3L757.0 84.3L757.0 86.4L757.0 88.4L757.0 90.4L757.0 92.4L756.9 94.4L756.9 96.4L756.9 98.4L756.9 100.4L756.9 102.5L756.9 104.5L756.9 106.5L756.9 108.5L756.9 110.5L756.9 112.5L756.9 114.5L756.9 116.6L756.9 118.6L757.0 120.6L757.0 122.6L757.0 124.6L757.0 126.6L757.0 128.6L757.0 130.7L757.0 132.7L757.1 134.7L757.1 136.7L757.1 138.7L757.1 140.8L757.1 142.8L757.2 144.8L757.2 146.8L757.2 148.8L757.2 150.9L757.3 152.9L757.3 154.9L757.3 156.9L757.4 159.0L757.4 161.0L757.5 163.0L757.5 165.1L757.5 167.1L757.6 169.1L757.6 171.1L757.7 173.2L757.7 175.2L757.7 177.2L757.8 179.3L757.8 181.3L757.8 183.3L757.9 185.4L757.9 187.4L757.9 189.4L757.9 191.5L757.9 193.5L757.9 195.5L757.9 197.5L757.9 199.6L757.9 201.6L757.8 203.6L757.8 205.6L757.7 207.6L757.7 209.6L757.6 211.7L757.5 213.7L757.4 215.7L757.3 217.7L757.1 219.7L757.0 221.7L756.8 223.7L756.7 225.7L756.5 227.7L756.2 229.6L756.0 231.6L755.8 233.6L755.5 235.6L755.2 237.5L754.9 239.5L754.6 241.5L754.3 243.4L753.9 245.4L753.5 247.3L753.1 249.3L752.6 251.2L752.2 253.1L751.7 255.1L751.2 257.0L750.7 258.9L750.1 260.8L749.5 262.7L748.9 264.6L748.3 266.5L747.6 268.4L746.9 270.3L746.2 272.1L745.4 274.0L744.6 275.9L743.8 277.7L742.9 279.6L742.0 281.4L741.1 283.2L740.2 285.1L739.2 286.9L738.2 288.7" fill="none" stroke="#000" stroke-width="2.4" stroke-linejoin="round"/>
</g>
<path d="M118.4 286.0v-3.0M118.4 41.0v3.0M148.7 286.0v-3.0M148.7 41.0v3.0M170.1 286.0v-3.0M170.1 41.0v3.0M186.8 286.0v-3.0M186.8 41.0v3.0M200.4 286.0v-3.0M200.4 41.0v3.0M211.9 286.0v-3.0M211.9 41.0v3.0M221.9 286.0v-3.0M221.9 41.0v3.0M230.6 286.0v-3.0M230.6 41.0v3.0M238.5 286.0v-6.5M238.5 41.0v6.5M290.2 286.0v-3.0M290.2 41.0v3.0M320.5 286.0v-3.0M320.5 41.0v3.0M341.9 286.0v-3.0M341.9 41.0v3.0M358.6 286.0v-3.0M358.6 41.0v3.0M372.2 286.0v-3.0M372.2 41.0v3.0M383.7 286.0v-3.0M383.7 41.0v3.0M393.7 286.0v-3.0M393.7 41.0v3.0M67.0 262.2h3.0M67.0 247.8h3.0M67.0 237.5h3.0M67.0 229.6h3.0M67.0 223.1h3.0M67.0 217.6h3.0M67.0 212.8h3.0M67.0 208.7h3.0M67.0 204.9h6.5M67.0 180.2h3.0M67.0 165.8h3.0M67.0 155.5h3.0M67.0 147.6h3.0M67.0 141.1h3.0M67.0 135.6h3.0M67.0 130.8h3.0M67.0 126.7h3.0M67.0 122.9h6.5M67.0 98.2h3.0M67.0 83.8h3.0M67.0 73.5h3.0M67.0 65.6h3.0M67.0 59.1h3.0M67.0 53.6h3.0M67.0 48.8h3.0M67.0 44.7h3.0M513.4 286.0v-3.0M513.4 41.0v3.0M543.7 286.0v-3.0M543.7 41.0v3.0M565.1 286.0v-3.0M565.1 41.0v3.0M581.8 286.0v-3.0M581.8 41.0v3.0M595.4 286.0v-3.0M595.4 41.0v3.0M606.9 286.0v-3.0M606.9 41.0v3.0M616.9 286.0v-3.0M616.9 41.0v3.0M625.6 286.0v-3.0M625.6 41.0v3.0M633.5 286.0v-6.5M633.5 41.0v6.5M685.2 286.0v-3.0M685.2 41.0v3.0M715.5 286.0v-3.0M715.5 41.0v3.0M736.9 286.0v-3.0M736.9 41.0v3.0M753.6 286.0v-3.0M753.6 41.0v3.0M767.2 286.0v-3.0M767.2 41.0v3.0M778.7 286.0v-3.0M778.7 41.0v3.0M788.7 286.0v-3.0M788.7 41.0v3.0M463.0 262.2h3.0M463.0 247.8h3.0M463.0 237.5h3.0M463.0 229.6h3.0M463.0 223.1h3.0M463.0 217.6h3.0M463.0 212.8h3.0M463.0 208.7h3.0M463.0 204.9h6.5M463.0 180.2h3.0M463.0 165.8h3.0M463.0 155.5h3.0M463.0 147.6h3.0M463.0 141.1h3.0M463.0 135.6h3.0M463.0 130.8h3.0M463.0 126.7h3.0M463.0 122.9h6.5M463.0 98.2h3.0M463.0 83.8h3.0M463.0 73.5h3.0M463.0 65.6h3.0M463.0 59.1h3.0M463.0 53.6h3.0M463.0 48.8h3.0M463.0 44.7h3.0" stroke="#000" stroke-width="1" fill="none"/><rect x="67" y="41" width="1" height="245" fill="#000" opacity="0.75"/><rect x="67" y="41" width="330" height="1" fill="#000" opacity="0.45"/><rect x="463" y="41" width="329" height="1" fill="#000" opacity="0.45"/><rect x="463" y="41" width="1" height="245" fill="#000" opacity="0.25"/>
</svg>
</body></html>
